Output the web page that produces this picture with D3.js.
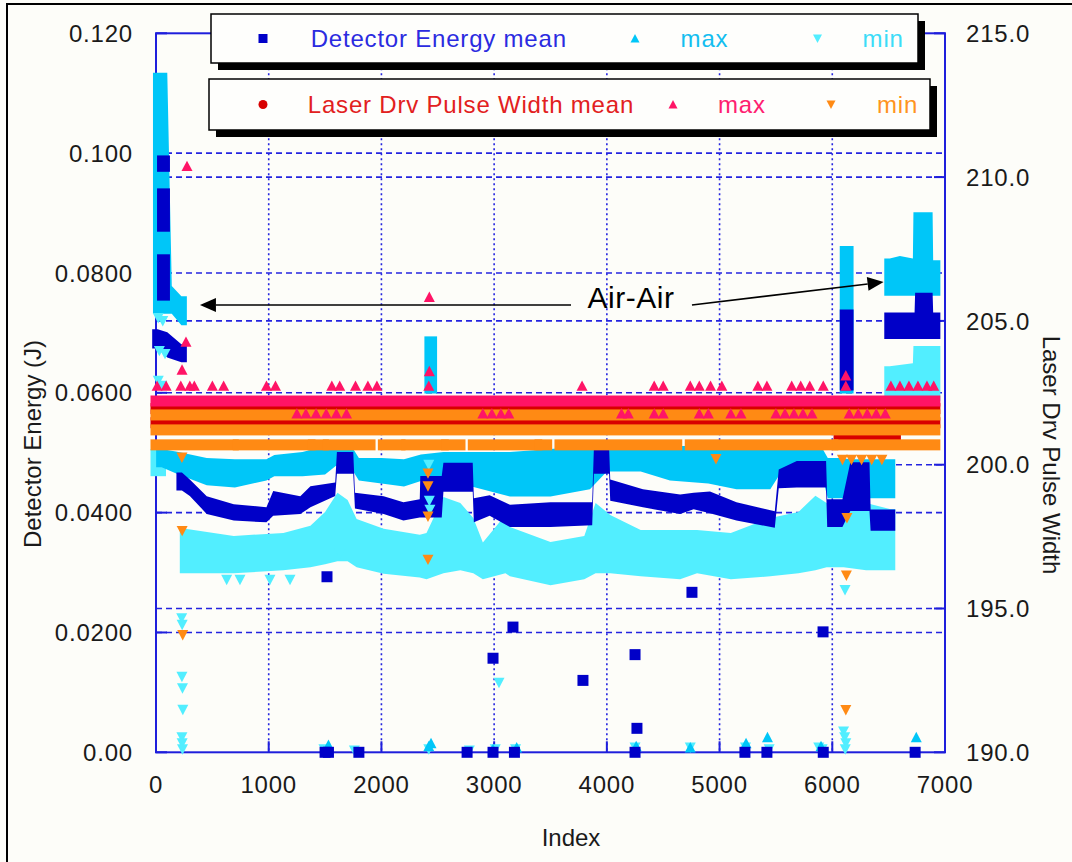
<!DOCTYPE html>
<html><head><meta charset="utf-8">
<script src="https://cdn.jsdelivr.net/npm/d3@7"></script>
<style>body{margin:0;background:#FDFDF9;} svg{display:block;font-family:"Liberation Sans",Arial,sans-serif;}</style>
</head><body><svg id="c" width="1072" height="862"></svg>
<script>
// ---------------- DATA ----------------
const xTicks = [0,1000,2000,3000,4000,5000,6000,7000];
const xTickLabels = ["0","1000","2000","3000","4000","5000","6000","7000"];
const leftTicks = [0,0.02,0.04,0.06,0.08,0.10,0.12];
const leftTickLabels = ["0.00","0.0200","0.0400","0.0600","0.0800","0.100","0.120"];
const rightTicks = [190,195,200,205,210,215];
const rightTickLabels = ["190.0","195.0","200.0","205.0","210.0","215.0"];

// Detector Energy mean: dense bands [index, low, high] (J)
const dmEarlyColA = [[58,0.0978,0.0987],[75,0.0978,0.0987]];
const dmEarlyColB = [[58,0.0878,0.0932],[75,0.0878,0.0932]];
const dmEarlyColC = [[58,0.0763,0.0822],[75,0.0763,0.0822]];
const dmEarlyBlob = [[15,0.0683,0.0697],[100,0.0668,0.0692],[225,0.0660,0.0672]];
const dmMain = [[230,0.0446,0.0458],[300,0.0437,0.0446],[450,0.0407,0.0418],[690,0.0396,0.0405],[980,0.0393,0.0400],
 [1040,0.0404,0.0427],[1280,0.0407,0.0418],[1370,0.0418,0.0435],[1590,0.0437,0.0441],[1605,0.0474,0.0492],
 [1750,0.0474,0.0492],[1765,0.0416,0.0424],[2020,0.0407,0.0418],[2195,0.0396,0.0408],[2340,0.0401,0.0413],
 [2345,0.0401,0.0452],[2535,0.0401,0.0452],[2550,0.0444,0.0474],[2810,0.0444,0.0474],[2820,0.0393,0.0415],
 [2960,0.0404,0.0420],[3140,0.0385,0.0404],[3500,0.0385,0.0408],[3870,0.0388,0.0408],[3885,0.0474,0.0499],
 [4020,0.0474,0.0499],[4030,0.0429,0.0446],[4320,0.0418,0.0430],[4650,0.0407,0.0421],[4770,0.0415,0.0424],
 [4915,0.0408,0.0426],[5150,0.0396,0.0408],[5490,0.0384,0.0393],[5525,0.0450,0.0463],[5685,0.0451,0.0477],
 [5945,0.0451,0.0477],[5955,0.0385,0.0413],[6090,0.0385,0.0413],[6160,0.0412,0.0475],[6330,0.0412,0.0475],
 [6340,0.0379,0.0396],[6510,0.0379,0.0396]];
const dmColumn6100 = [[6115,0.0613,0.0730],[6140,0.0613,0.0730]];
const dmAirAir = [[6510,0.0699,0.0725],[6730,0.0699,0.0725],[6735,0.0699,0.0758],[6890,0.0699,0.0758],[6895,0.0699,0.0725],[6910,0.0699,0.0725]];
const dmPoints = [[1517,0.0293],[2990,0.0157],[3167,0.0209],[3788,0.0120],[4250,0.0163],[4267,0.0040],[4755,0.0267],[5918,0.0201],
 [1500,0],[1530,0],[1800,0],[2760,0],[2990,0],[3180,0],[4250,0],[5225,0],[5420,0],[5920,0],[6735,0]];

// Detector Energy max
const dxEarly = [[22,0.0741,0.1125],[100,0.0741,0.1125],[140,0.0741,0.0769],[225,0.0722,0.0752]];
const dxMain = [[50,0.0485,0.0497],[200,0.0473,0.0492],[450,0.0455,0.0482],[700,0.0451,0.0480],[980,0.0463,0.0480],
 [1050,0.0470,0.0487],[1300,0.0470,0.0492],[1500,0.0473,0.0502],[1600,0.0488,0.0507],[1750,0.0478,0.0497],
 [1800,0.0463,0.0482],[2000,0.0458,0.0482],[2200,0.0453,0.0480],[2350,0.0462,0.0488],[2550,0.0458,0.0492],
 [2800,0.0453,0.0492],[3140,0.0436,0.0492],[3500,0.0436,0.0497],[3850,0.0448,0.0502],[4000,0.0478,0.0504],
 [4300,0.0478,0.0497],[4560,0.0463,0.0502],[4900,0.0458,0.0502],[5150,0.0448,0.0502],[5450,0.0448,0.0502],
 [5550,0.0478,0.0502],[5900,0.0478,0.0502],[5960,0.0433,0.0482],[6060,0.0433,0.0482],[6160,0.0433,0.0480],[6510,0.0433,0.0480]];
const dxColumn2420 = [[2430,0.0608,0.0685],[2445,0.0608,0.0685]];
const dxColumn6100 = [[6115,0.0608,0.0836],[6140,0.0608,0.0836]];
const dxAirAir = [[6510,0.0771,0.0815],[6600,0.0771,0.0819],[6715,0.0771,0.0815],[6720,0.0771,0.0892],[6890,0.0771,0.0892],[6895,0.0771,0.0812],[6910,0.0771,0.0812]];
const dxPoints = [[1530,0.0012],[2420,0.0010],[2440,0.0015],[4260,0.0010],[5235,0.0015],[5425,0.0025],[6745,0.0025],
 [2990,0.0005],[3200,0.0008],[4740,0.0008],[5900,0.0010]];

// Detector Energy min
const dnEarly = [[0,0.0470,0.0497],[40,0.0470,0.0497]];
const dnMain = [[260,0.0308,0.0364],[690,0.0308,0.0352],[1130,0.0313,0.0357],[1370,0.0318,0.0369],[1500,0.0323,0.0392],
 [1610,0.0328,0.0424],[1700,0.0328,0.0412],[1780,0.0318,0.0380],[2020,0.0307,0.0364],[2340,0.0301,0.0354],
 [2400,0.0298,0.0357],[2550,0.0308,0.0417],[2700,0.0313,0.0407],[2815,0.0308,0.0382],[2900,0.0298,0.0341],
 [3100,0.0308,0.0387],[3140,0.0303,0.0367],[3500,0.0288,0.0342],[3800,0.0298,0.0352],[3900,0.0308,0.0407],
 [4030,0.0308,0.0387],[4300,0.0303,0.0362],[4650,0.0298,0.0362],[4800,0.0308,0.0362],[5100,0.0298,0.0357],
 [5450,0.0303,0.0382],[5700,0.0308,0.0392],[5850,0.0313,0.0419],[5950,0.0318,0.0407],[6100,0.0318,0.0392],
 [6300,0.0313,0.0407],[6510,0.0313,0.0397]];
const dnAirAir = [[6510,0.0596,0.0635],[6715,0.0596,0.0640],[6720,0.0596,0.0669],[6910,0.0596,0.0669]];
const dnPoints = [[228,0.0224],[232,0.0213],[230,0.0126],[235,0.0107],[238,0.0071],[230,0.0025],[232,0.0015],[235,0.0005],
 [20,0.0725],[60,0.0720],[30,0.0670],[80,0.0665],[20,0.0620],[50,0.0612],
 [627,0.0288],[745,0.0288],[1011,0.0288],[1189,0.0288],[1632,0.0332],[3043,0.0116],[6113,0.0271],
 [2420,0.0480],[2425,0.0420],[2430,0.0405],
 [1490,0.0005],[1760,0.0003],[2420,0.0005],[2780,0.0003],[3010,0.0005],[3190,0.0005],[4250,0.0008],[4740,0.0008],
 [5230,0.0008],[5440,0.0005],[5880,0.0008],[5910,0.0005],[6100,0.0035],[6110,0.0025],[6120,0.0015],[6115,0.0005]];

// Laser Drv Pulse Width (quantized levels): [value, fromIndex, toIndex]
const lmLevels = [[201.95,0,6910],[201.46,0,6910],[200.95,6060,6560]];
const lxLevels = [[202.215,0,6910]];
const lnLevels = [[201.73,0,6910],[201.21,0,6910],
 [200.69,0,686],[200.69,730,1366],[200.69,1396,1485],[200.69,1529,1899],[200.69,2017,2165],[200.69,2224,2549],
 [200.69,2578,2697],[200.69,2815,3378],[200.69,3407,3466],[200.69,3584,4620],[200.69,4740,6005],[200.69,6050,6910]];
const lxPoints = [[10,202.74],[90,202.74],[220,202.74],[300,202.74],[340,202.74],[500,202.74],[600,202.74],[980,202.74],
 [1060,202.74],[1560,202.74],[1630,202.74],[1770,202.74],[1880,202.74],[1960,202.74],[2420,202.74],[3780,202.74],
 [4420,202.74],[4500,202.74],[4740,202.74],[4820,202.74],[4920,202.74],[5020,202.74],[5340,202.74],[5420,202.74],
 [5640,202.74],[5720,202.74],[5800,202.74],[5920,202.74],[6120,202.74],[6520,202.74],[6600,202.74],[6680,202.74],
 [6760,202.74],[6840,202.74],[6900,202.74],
 [275,210.38],[266,204.27],[231,203.3],[2425,205.83],[2425,203.25],[6120,203.1]];
const lxMixed = [1250,1330,1420,1510,1600,1690,2900,2980,3060,3130,4130,4190,4420,4500,4820,4900,5100,5190,5500,5580,5660,5740,5820,6150,6230,6310,6390,6470];
const lxMixedValue = 201.78;
const lnPoints = [[230,200.25],[232,197.7],[237,194.08],[2413,199.7],[2413,199.25],[2413,198.2],[2413,196.7],[4968,200.2],
 [6090,200.17],[6170,200.17],[6260,200.17],[6350,200.17],[6440,200.17],[6130,198.15],[6125,196.15],[6120,191.47]];

// annotation (data coords)
const annoLabel = {text:"Air-Air", i:4214, v:0.0742};
const annoArrows = [{from:[3682,0.07465], to:[390,0.07465]}, {from:[4755,0.07465], to:[6455,0.07849]}];

// legend
const legendRow1 = ["Detector Energy mean","max","min"];
const legendRow2 = ["Laser Drv Pulse Width mean","max","min"];

// ---------------- STYLE ----------------
const C = {dm:"#0000C8", dx:"#00C6F8", dn:"#52EEFF", lm:"#D80000", lx:"#FF1466", ln:"#FF8A14",
  axis:"#1E1EDC", grid:"#2424E0", text:"#1a1a1a"};

const svg = d3.select("#c");
svg.append("rect").attr("width",1072).attr("height",862).attr("fill","#FDFDF9");
svg.append("path").attr("d","M7,870 L7,4 L1080,4").attr("fill","none").attr("stroke","#000").attr("stroke-width",2);

const x = d3.scaleLinear().domain([0,7000]).range([156,945]);
const yL = d3.scaleLinear().domain([0,0.12]).range([752.3,33.3]);
const yR = d3.scaleLinear().domain([190,215]).range([752.3,33.3]);

// grid
const g = svg.append("g");
g.selectAll(".vg").data(xTicks.slice(1,-1)).join("line")
  .attr("x1",d=>x(d)).attr("x2",d=>x(d)).attr("y1",yL(0.12)).attr("y2",yL(0))
  .attr("stroke",C.grid).attr("stroke-width",1.6).attr("stroke-dasharray","2,3");
g.selectAll(".hl").data(leftTicks.slice(1,-1)).join("line")
  .attr("x1",x(0)).attr("x2",x(7000)).attr("y1",d=>yL(d)).attr("y2",d=>yL(d))
  .attr("stroke",C.grid).attr("stroke-width",1.6).attr("stroke-dasharray","6,4");
svg.append("g").selectAll("line").data(rightTicks.slice(1,-1)).join("line")
  .attr("x1",x(0)).attr("x2",x(7000)).attr("y1",d=>yR(d)).attr("y2",d=>yR(d))
  .attr("stroke",C.grid).attr("stroke-width",1.6).attr("stroke-dasharray","6,4");

// axes frame + inward ticks
const ax = svg.append("g").attr("stroke",C.axis).attr("stroke-width",2).attr("fill","none");
ax.append("rect").attr("x",x(0)).attr("y",yL(0.12)).attr("width",x(7000)-x(0)).attr("height",yL(0)-yL(0.12));
ax.selectAll(".lt").data(leftTicks).join("line").attr("x1",x(0)).attr("x2",x(0)+11).attr("y1",d=>yL(d)).attr("y2",d=>yL(d));
ax.selectAll(".rt").data(rightTicks).join("line").attr("x1",x(7000)).attr("x2",x(7000)-11).attr("y1",d=>yR(d)).attr("y2",d=>yR(d));
ax.selectAll(".bt").data(xTicks).join("line").attr("x1",d=>x(d)).attr("x2",d=>x(d)).attr("y1",yL(0)).attr("y2",yL(0)-11);

// marker shapes
function shape(type, s){
  const h=s/2;
  if(type==="square") return `M${-h},${-h}h${s}v${s}h${-s}Z`;
  if(type==="up") return `M0,${-h}L${h},${h*0.9}L${-h},${h*0.9}Z`;
  if(type==="down") return `M0,${h}L${h},${-h*0.9}L${-h},${-h*0.9}Z`;
  if(type==="circle") return `M${-h},0a${h},${h} 0 1,0 ${s},0a${h},${h} 0 1,0 ${-s},0Z`;
}
const MS = 11, PAD = 5.5;
const marks = svg.append("g");

// dense band of markers: area covering the marker envelope (marker half-size padding)
function band(data, yS, color){
  const top = data.map(d=>[x(d[0]), yS(d[2])-PAD]);
  const bot = data.map(d=>[x(d[0]), yS(d[1])+PAD]);
  const n = data.length-1;
  const botRev = bot.slice().reverse();
  const poly = [[top[0][0]-PAD, top[0][1]], ...top, [top[n][0]+PAD, top[n][1]],
                [bot[n][0]+PAD, bot[n][1]], ...botRev, [bot[0][0]-PAD, bot[0][1]]];
  marks.append("path").attr("d", d3.line()(poly)+"Z").attr("fill",color);
}
function points(data, yS, color, type, size){
  marks.append("g").selectAll("path").data(data).join("path")
    .attr("transform",d=>`translate(${x(d[0])},${yS(d[1])})`)
    .attr("d",shape(type,size||MS)).attr("fill",color);
}
function levels(data, color){
  marks.append("g").selectAll("rect").data(data).join("rect")
    .attr("x",d=>x(d[1])-PAD).attr("width",d=>x(d[2])-x(d[1])+2*PAD)
    .attr("y",d=>yR(d[0])-PAD).attr("height",MS).attr("fill",color);
}

// detector series
[dnEarly, dnMain, dnAirAir].forEach(b=>band(b, yL, C.dn));
[dxEarly, dxMain, dxColumn2420, dxColumn6100, dxAirAir].forEach(b=>band(b, yL, C.dx));
[dmEarlyColA, dmEarlyColB, dmEarlyColC, dmEarlyBlob, dmMain, dmColumn6100, dmAirAir].forEach(b=>band(b, yL, C.dm));

// laser series
levels(lmLevels, C.lm);
levels(lxLevels, C.lx);
levels(lnLevels, C.ln);
points(lxMixed.map(i=>[i,lxMixedValue]), yR, C.lx, "up");

// scattered points
points(dnPoints, yL, C.dn, "down");
points(dxPoints, yL, C.dx, "up");
points(dmPoints, yL, C.dm, "square");
points(lxPoints, yR, C.lx, "up");
points(lnPoints, yR, C.ln, "down");

// tick labels
const tl = svg.append("g").attr("fill",C.text).attr("font-size",24).attr("letter-spacing","0.8px");
tl.selectAll(".l").data(leftTicks).join("text").attr("x",133).attr("y",d=>yL(d)+8.6)
  .attr("text-anchor","end").text((d,i)=>leftTickLabels[i]);
tl.selectAll(".r").data(rightTicks).join("text").attr("x",966).attr("y",d=>yR(d)+8.6)
  .text((d,i)=>rightTickLabels[i]);
tl.selectAll(".b").data(xTicks).join("text").attr("x",d=>x(d)).attr("y",793)
  .attr("text-anchor","middle").text((d,i)=>xTickLabels[i]);

// axis titles
svg.append("text").attr("transform","translate(41,444) rotate(-90)").attr("text-anchor","middle")
  .attr("font-size",24).attr("fill",C.text).text("Detector Energy (J)");
svg.append("text").attr("transform","translate(1043,455) rotate(90)").attr("text-anchor","middle")
  .attr("font-size",24).attr("fill",C.text).text("Laser Drv Pulse Width");
svg.append("text").attr("x",571).attr("y",846).attr("text-anchor","middle")
  .attr("font-size",24).attr("fill",C.text).text("Index");

// annotation
const an = svg.append("g");
annoArrows.forEach(a=>{
  const x0=x(a.from[0]), y0=yL(a.from[1]), x1=x(a.to[0]), y1=yL(a.to[1]);
  const dx=x1-x0, dy=y1-y0, L=Math.hypot(dx,dy), ux=dx/L, uy=dy/L;
  const bx=x1-16*ux, by=y1-16*uy;
  an.append("line").attr("x1",x0).attr("y1",y0).attr("x2",bx).attr("y2",by).attr("stroke","#000").attr("stroke-width",1.6);
  an.append("path").attr("d",`M${x1},${y1}L${bx-7*uy},${by+7*ux}L${bx+7*uy},${by-7*ux}Z`).attr("fill","#000");
});
an.append("text").attr("x",x(annoLabel.i)).attr("y",yL(annoLabel.v)).attr("text-anchor","middle")
  .attr("font-size",30).attr("letter-spacing","0.5px").attr("fill","#000").text(annoLabel.text);

// legend boxes
function legendBox(bx,by,bw,bh){
  const lg = svg.append("g");
  lg.append("rect").attr("x",bx+7).attr("y",by+7).attr("width",bw).attr("height",bh).attr("fill","#000");
  lg.append("rect").attr("x",bx).attr("y",by).attr("width",bw).attr("height",bh).attr("fill","#FEFEFC").attr("stroke","#000").attr("stroke-width",1.5);
  return lg;
}
const lg1 = legendBox(211,14,707,49);
const lg2 = legendBox(209,79,721,51);
const row1 = [
  {mx:263, type:"square", mc:C.dm, tx:310.7, tc:"#2B2BE0", label:legendRow1[0]},
  {mx:635, type:"up", mc:C.dx, tx:680.6, tc:"#14BEF0", label:legendRow1[1]},
  {mx:817.5, type:"down", mc:C.dn, tx:862.6, tc:"#3CDCF8", label:legendRow1[2]}];
const row2 = [
  {mx:263, type:"circle", mc:C.lm, tx:307.8, tc:"#E22020", label:legendRow2[0]},
  {mx:673, type:"up", mc:C.lx, tx:718, tc:"#FF2070", label:legendRow2[1]},
  {mx:831, type:"down", mc:C.ln, tx:877, tc:"#FF9420", label:legendRow2[2]}];
[[lg1,row1,38.5],[lg2,row2,104.5]].forEach(([lg,row,cy])=>{
  row.forEach(r=>{
    lg.append("path").attr("transform",`translate(${r.mx},${cy})`).attr("d",shape(r.type,9)).attr("fill",r.mc);
    lg.append("text").attr("x",r.tx).attr("y",cy+8.6).attr("font-size",24).attr("letter-spacing","0.8px")
      .attr("fill",r.tc).text(r.label);
  });
});
</script></body></html>
